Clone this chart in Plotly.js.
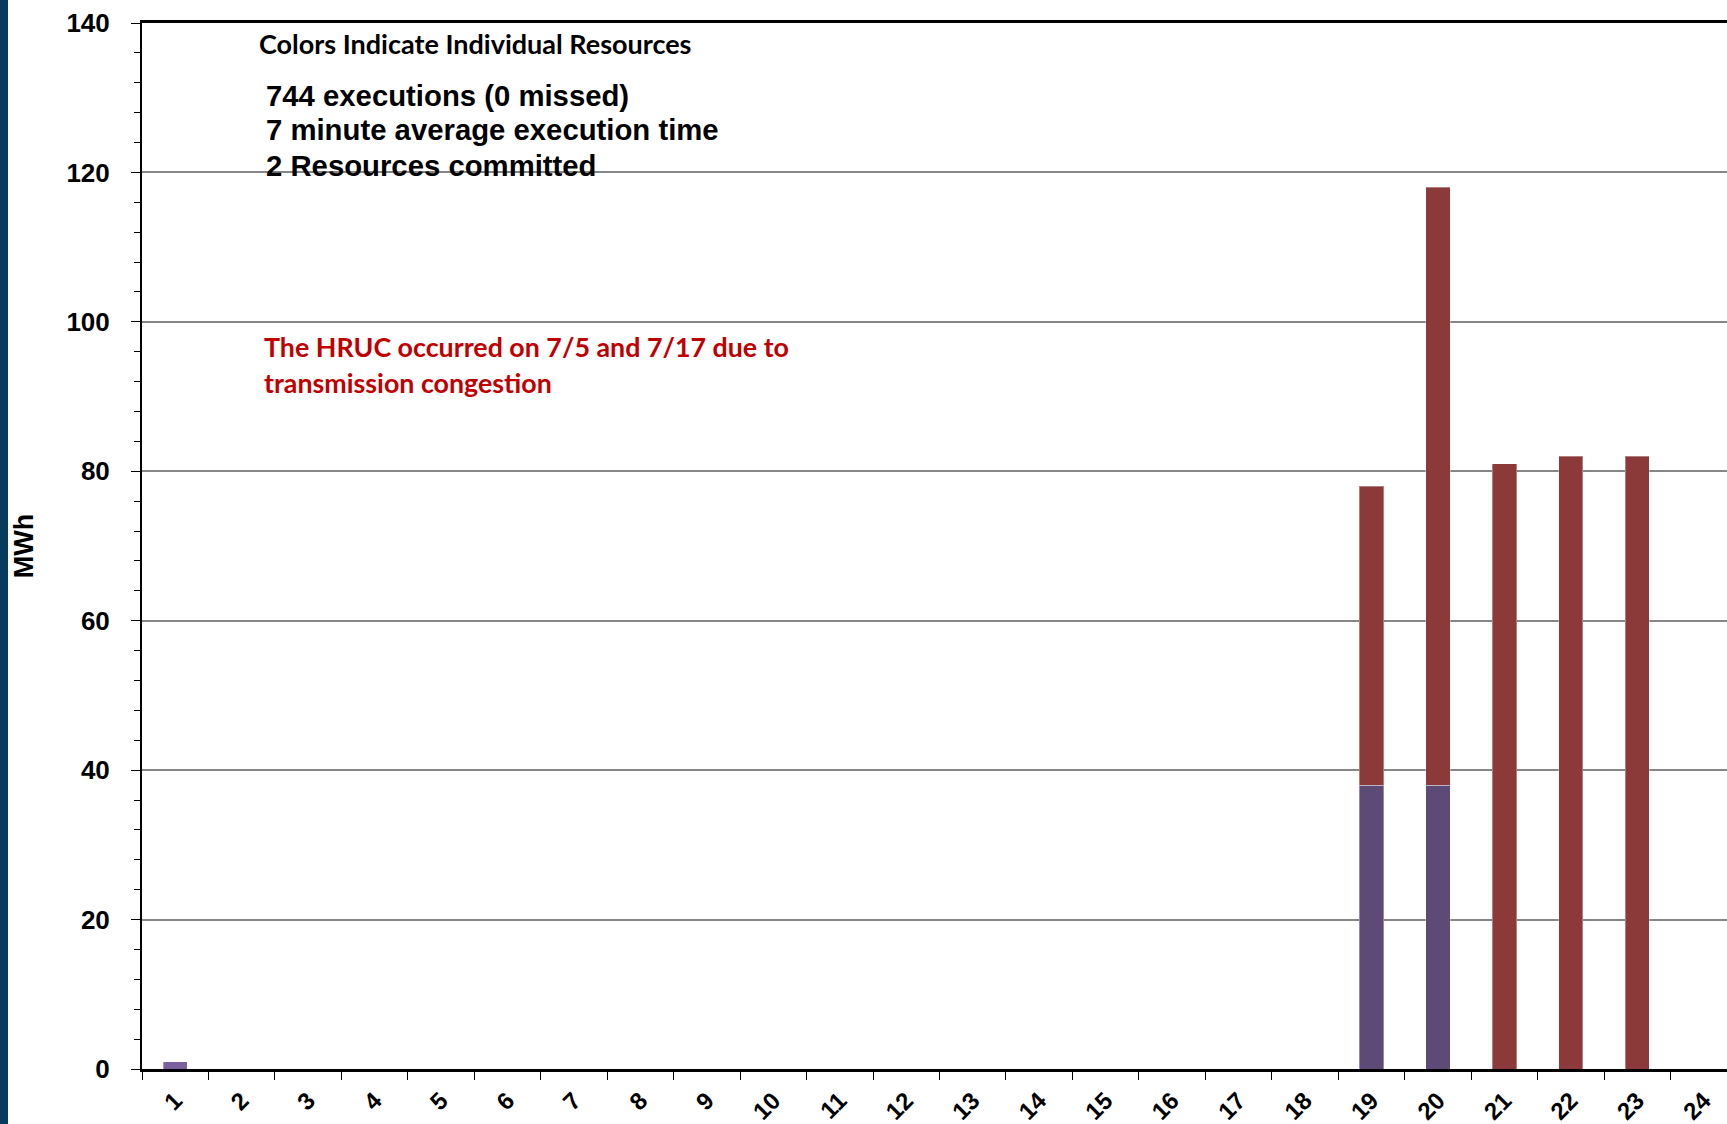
<!DOCTYPE html>
<html>
<head>
<meta charset="utf-8">
<script src="https://cdn.plot.ly/plotly-3.0.1.min.js"></script>
<style>
  html, body { margin: 0; padding: 0; background: #ffffff; overflow: hidden; }
  #chart { width: 1727px; height: 1124px; }
</style>
</head>
<body>
<div id="chart"></div>
<script>
// ---- data ----
const hours = ["1","2","3","4","5","6","7","8","9","10","11","12","13","14","15","16","17","18","19","20","21","22","23","24"];
const resourceA = [0,0,0,0,0,0,0,0,0,0,0,0,0,0,0,0,0,0,38,38,0,0,0,0];   // dark purple
const resourceB = [0,0,0,0,0,0,0,0,0,0,0,0,0,0,0,0,0,0,40,80,81,82,82,0]; // red
const resourceC = [1,0,0,0,0,0,0,0,0,0,0,0,0,0,0,0,0,0,0,0,0,0,0,0];     // light purple
const yTicks = [0,20,40,60,80,100,120,140];
const noteTitle = "Colors Indicate Individual Resources";
const statLines = ["744 executions (0 missed)", "7 minute average execution time", "2 Resources committed"];
const redLines = ["The HRUC occurred on 7/5 and 7/17 due to", "transmission congestion"];

// ---- layout geometry (pixels) ----
const W = 1727, H = 1124;
const L = 142, T = 23, B = 1069;
const plotW = W - L, plotH = B - T;
const px = x => (x - L) / plotW;
const py = y => (B - y) / plotH;

const edge = {color: 'rgba(255,255,255,0.35)', width: 1};
const traces = [
  {type: 'bar', x: hours, y: resourceC, name: 'Resource C', marker: {color: '#7B609E', line: edge}},
  {type: 'bar', x: hours, y: resourceA, name: 'Resource A', marker: {color: '#5E4A77', line: edge}},
  {type: 'bar', x: hours, y: resourceB, name: 'Resource B', marker: {color: '#8B3A39', line: edge}}
];

const arialB = 'Liberation Sans, Arial, sans-serif';
const calB = 'Lato, Carlito, Calibri, sans-serif';

const annotations = [];
annotations.push({xref: 'paper', yref: 'paper', x: px(257), y: py(43), xanchor: 'left', yanchor: 'middle',
  text: '<b>' + noteTitle + '</b>', showarrow: false, font: {family: calB, size: 27, color: '#000000'}});
const statY = [95, 130, 165];
statLines.forEach((s, i) => annotations.push({xref: 'paper', yref: 'paper', x: px(264), y: py(statY[i]),
  xanchor: 'left', yanchor: 'middle', text: '<b>' + s + '</b>', showarrow: false,
  font: {family: arialB, size: 29.3, color: '#000000'}}));
const redY = [347, 383];
redLines.forEach((s, i) => annotations.push({xref: 'paper', yref: 'paper', x: px(262), y: py(redY[i]),
  xanchor: 'left', yanchor: 'middle', text: '<b>' + s + '</b>', showarrow: false,
  font: {family: calB, size: 26.8, color: '#C00000'}}));

const layout = {
  width: W, height: H,
  margin: {l: L, r: 0, t: T, b: H - B, pad: 0},
  paper_bgcolor: '#ffffff', plot_bgcolor: '#ffffff',
  showlegend: false,
  barmode: 'stack',
  bargap: 0.634,
  xaxis: {
    type: 'category',
    range: [-0.5, 23.35],
    tickson: 'boundaries',
    ticks: 'outside', ticklen: 8, tickwidth: 1, tickcolor: '#000000',
    showline: true, linecolor: '#000000', linewidth: 3, mirror: true,
    showgrid: false, zeroline: false,
    tickangle: -45,
    ticklabelstandoff: 5,
    tickfont: {family: arialB, size: 24, color: '#000000', weight: 'bold'},
    fixedrange: true
  },
  yaxis: {
    range: [0, 140],
    tickvals: yTicks,
    ticktext: yTicks.map(String),
    ticks: 'outside', ticklen: 9, tickwidth: 1, tickcolor: '#000000',
    minor: {dtick: 4, ticks: 'outside', ticklen: 6, tickwidth: 1, tickcolor: '#000000', showgrid: false},
    showline: true, linecolor: '#000000', linewidth: 2,
    showgrid: true, gridcolor: '#868686', gridwidth: 2,
    zeroline: false,
    ticklabelstandoff: 16,
    tickfont: {family: arialB, size: 26, color: '#000000', weight: 'bold'},
    title: {text: '<b>MWh</b>', font: {family: arialB, size: 27, color: '#000000'}, standoff: 25},
    fixedrange: true
  },
  shapes: [
    {type: 'rect', xref: 'paper', yref: 'paper', x0: px(0), x1: px(8), y0: -0.2, y1: 1.2,
     fillcolor: '#073B5E', line: {width: 0}, layer: 'above'}
  ],
  annotations: annotations
};

Plotly.newPlot('chart', traces, layout, {displayModeBar: false, staticPlot: true});
</script>
</body>
</html>
